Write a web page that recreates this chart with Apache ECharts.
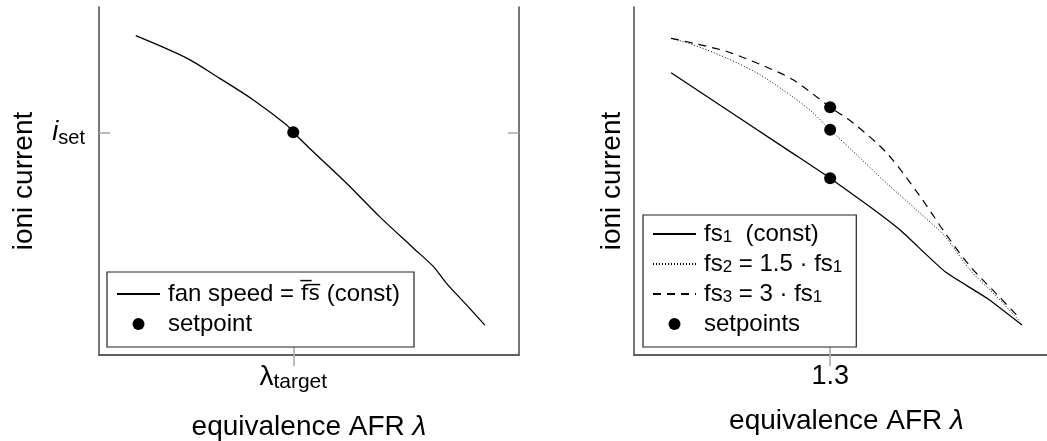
<!DOCTYPE html>
<html>
<head>
<meta charset="utf-8">
<script src="https://cdn.jsdelivr.net/npm/echarts@6/dist/echarts.min.js"></script>
<style>html,body{margin:0;padding:0;background:#fff}#c{width:1047px;height:441px}</style>
</head>
<body>
<div id="c"></div>
<script>
// ---- data ----
const lambdaTick = 1.3;          // λ_target / 1.3
const iSetTick = 64.0;           // i_set level (arbitrary current units, 0..100)

const leftLambda  = [1.0, 1.097, 1.16, 1.224, 1.2875, 1.3, 1.338, 1.402, 1.465, 1.529, 1.567, 1.592, 1.63, 1.665];
const leftCurrent = [91.75, 85.3, 79.5, 73.3, 66.1, 64.0, 58.4, 49.3, 39.7, 30.7, 25.4, 20.6, 14.4, 8.6];
const leftSetX = [1.3];
const leftSetY = [64.0];

const fs1Lambda  = [1.0, 1.231, 1.3, 1.375, 1.432, 1.517, 1.596, 1.662];
const fs1Current = [81.1, 57.8, 50.8, 42.6, 35.9, 23.9, 16.3, 8.6];
const fs2Lambda  = [1.0, 1.042, 1.105, 1.168, 1.231, 1.266, 1.3, 1.344, 1.407, 1.47, 1.517, 1.564, 1.614, 1.658];
const fs2Current = [91.0, 89.1, 85.3, 80.5, 74.0, 69.8, 64.7, 58.4, 49.3, 40.7, 34.0, 24.4, 16.8, 9.6];
const fs3Lambda  = [1.0, 1.042, 1.105, 1.168, 1.231, 1.3, 1.344, 1.407, 1.47, 1.517, 1.564, 1.614, 1.658];
const fs3Current = [91.0, 89.6, 87.2, 83.5, 79.0, 71.2, 66.6, 58.0, 45.5, 35.0, 25.5, 17.5, 10.5];
const rightSetX = [1.3, 1.3, 1.3];
const rightSetY = [50.8, 64.7, 71.2];

const zip = (a, b) => a.map((v, i) => [v, b[i]]);

// ---- styling ----
const FONT = 'Liberation Sans';
const FRAME = {show: true, lineStyle: {color: '#555', width: 1.6}};
const TICK = {show: true, inside: true, length: 11, lineStyle: {color: '#aaa', width: 1.6}};
const NOTICK = {show: false};
const XMIN = 0.93, XMAX_L = 1.73, XMAX_R = 1.709;

const legendRich = {
  n: {fontFamily: FONT, fontSize: 24, color: '#000'},
  s: {fontFamily: FONT, fontSize: 17, lineHeight: 13, verticalAlign: 'bottom', color: '#000'},
  ov: {fontFamily: 'DejaVu Sans', fontSize: 22, color: '#000'}
};
const legendText = {
  'fan': '{n|fan speed = }{ov|f\u0305s\u0305}{n| (const)}',
  'sp': '{n|setpoint}',
  'fs1': '{n|fs}{s|1}{n|  (const)}',
  'fs2': '{n|fs}{s|2}{n| = 1.5 \u00b7 fs}{s|1}',
  'fs3': '{n|fs}{s|3}{n| = 3 \u00b7 fs}{s|1}',
  'sps': '{n|setpoints}'
};
const legendCommon = {
  orient: 'vertical',
  backgroundColor: '#fff',
  borderColor: '#222',
  borderWidth: 1.2,
  borderRadius: 0,
  itemWidth: 43,
  itemHeight: 12,
  itemGap: 6,
  selectedMode: false,
  textStyle: {rich: legendRich, padding: [0, 0, 0, 3]},
  formatter: name => legendText[name]
};
const nameRich = {n: {fontFamily: FONT, fontSize: 28, color: '#000'},
                  l: {fontFamily: FONT, fontSize: 28, fontStyle: 'italic', color: '#000'}};

const option = {
  animation: false,
  backgroundColor: '#fff',
  textStyle: {fontFamily: FONT, color: '#000'},
  grid: [
    {left: 99, top: 7, width: 420, height: 348, containLabel: false, outerBoundsMode: 'none'},
    {left: 634, top: 7, right: 0, height: 348, containLabel: false, outerBoundsMode: 'none'}
  ],
  xAxis: [
    {gridIndex: 0, type: 'value', position: 'bottom', min: XMIN, max: XMAX_L,
     axisLine: FRAME, axisTick: Object.assign({customValues: [lambdaTick]}, TICK), splitLine: {show: false},
     axisLabel: {customValues: [lambdaTick], margin: 6,
       formatter: () => '{l|\u03bb}{s|target}',
       rich: {l: {fontFamily: FONT, fontSize: 28, lineHeight: 32, color: '#000'},
              s: {fontFamily: FONT, fontSize: 21, lineHeight: 22, verticalAlign: 'bottom', color: '#000'}}},
     name: '{n|equivalence AFR }{l|\u03bb}', nameLocation: 'middle', nameGap: 58,
     nameTextStyle: {rich: nameRich}},
    {gridIndex: 0, type: 'value', position: 'top', min: XMIN, max: XMAX_L,
     axisLine: FRAME, axisTick: Object.assign({customValues: [lambdaTick]}, TICK), splitLine: {show: false}, axisLabel: {show: false}},
    {gridIndex: 1, type: 'value', position: 'bottom', min: XMIN, max: XMAX_R,
     axisLine: FRAME, axisTick: Object.assign({customValues: [lambdaTick]}, TICK), splitLine: {show: false},
     axisLabel: {customValues: [lambdaTick], margin: 8, fontFamily: FONT, fontSize: 27, color: '#000', formatter: v => v.toFixed(1)},
     name: '{n|equivalence AFR }{l|\u03bb}', nameLocation: 'middle', nameGap: 52,
     nameTextStyle: {rich: nameRich, padding: [0, 0, 0, 12]}},
    {gridIndex: 1, type: 'value', position: 'top', min: XMIN, max: XMAX_R,
     axisLine: FRAME, axisTick: Object.assign({customValues: [lambdaTick]}, TICK), splitLine: {show: false}, axisLabel: {show: false}}
  ],
  yAxis: [
    {gridIndex: 0, type: 'value', position: 'left', min: 0, max: 100,
     axisLine: FRAME, axisTick: Object.assign({customValues: [iSetTick]}, TICK), splitLine: {show: false},
     axisLabel: {customValues: [iSetTick], margin: 14,
       formatter: () => '{i|i}{s|set}',
       rich: {i: {fontFamily: FONT, fontSize: 27, fontStyle: 'italic', lineHeight: 32, color: '#000'},
              s: {fontFamily: FONT, fontSize: 20, lineHeight: 18, verticalAlign: 'bottom', color: '#000'}}},
     name: 'ioni current', nameLocation: 'middle', nameGap: 61,
     nameTextStyle: {fontFamily: FONT, fontSize: 28, color: '#000'}},
    {gridIndex: 0, type: 'value', position: 'right', min: 0, max: 100,
     axisLine: FRAME, axisTick: Object.assign({customValues: [iSetTick]}, TICK), splitLine: {show: false}, axisLabel: {show: false}},
    {gridIndex: 1, type: 'value', position: 'left', min: 0, max: 100,
     axisLine: FRAME, axisTick: NOTICK, splitLine: {show: false}, axisLabel: {show: false},
     name: 'ioni current', nameLocation: 'middle', nameGap: 8,
     nameTextStyle: {fontFamily: FONT, fontSize: 28, color: '#000'}},
    {gridIndex: 1, type: 'value', position: 'right', min: 0, max: 100,
     axisLine: {show: false}, axisTick: NOTICK, splitLine: {show: false}, axisLabel: {show: false}}
  ],
  legend: [
    Object.assign({}, legendCommon, {left: 107, top: 272, padding: [10, 14, 11, 9],
      data: [{name: 'fan', itemStyle: {opacity: 0}}, {name: 'sp'}]}),
    Object.assign({}, legendCommon, {left: 643, top: 215, padding: [7, 14, 11, 9],
      data: [{name: 'fs1', itemStyle: {opacity: 0}}, {name: 'fs2', itemStyle: {opacity: 0}},
             {name: 'fs3', itemStyle: {opacity: 0}}, {name: 'sps'}]})
  ],
  series: [
    {name: 'fan', type: 'line', xAxisIndex: 0, yAxisIndex: 0, data: zip(leftLambda, leftCurrent),
     symbol: 'none', smooth: 0.3, lineStyle: {color: '#000', width: 1.3}, itemStyle: {color: '#000'}, z: 3},
    {name: 'sp', type: 'scatter', xAxisIndex: 0, yAxisIndex: 0, data: zip(leftSetX, leftSetY),
     symbol: 'circle', symbolSize: 12, itemStyle: {color: '#000', opacity: 1}, z: 4},
    {name: 'fs1', type: 'line', xAxisIndex: 2, yAxisIndex: 2, data: zip(fs1Lambda, fs1Current),
     symbol: 'none', smooth: 0.15, lineStyle: {color: '#000', width: 1.3}, itemStyle: {color: '#000'}, z: 3},
    {name: 'fs2', type: 'line', xAxisIndex: 2, yAxisIndex: 2, data: zip(fs2Lambda, fs2Current),
     symbol: 'none', smooth: 0.3, lineStyle: {color: '#000', width: 1, type: [1, 2]}, itemStyle: {color: '#000'}, z: 3},
    {name: 'fs3', type: 'line', xAxisIndex: 2, yAxisIndex: 2, data: zip(fs3Lambda, fs3Current),
     symbol: 'none', smooth: 0.3, lineStyle: {color: '#000', width: 1.2, type: [8, 6]}, itemStyle: {color: '#000'}, z: 3},
    {name: 'sps', type: 'scatter', xAxisIndex: 2, yAxisIndex: 2, data: zip(rightSetX, rightSetY),
     symbol: 'circle', symbolSize: 12, itemStyle: {color: '#000', opacity: 1}, z: 4}
  ]
};

const chart = echarts.init(document.getElementById('c'), null, {renderer: 'canvas'});
chart.setOption(option);
</script>
</body>
</html>
